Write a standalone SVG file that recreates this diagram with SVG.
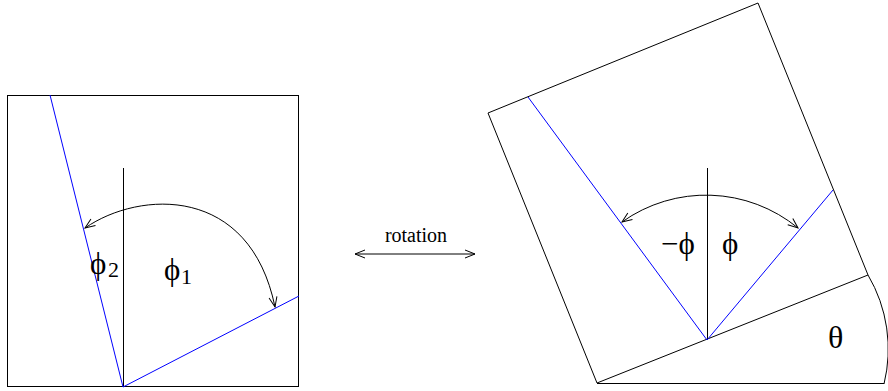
<svg xmlns="http://www.w3.org/2000/svg" width="888" height="391" viewBox="0 0 888 391">
<style>
.ln{fill:none;stroke:#000;stroke-width:1}
.bl{fill:none;stroke:#0000ff;stroke-width:1}
.sym{font-family:"Liberation Serif","DejaVu Serif",serif;font-size:31px;fill:#000}
.sub{font-family:"Liberation Serif","DejaVu Serif",serif;font-size:22px;fill:#000}
.lbl{font-family:"Liberation Serif","DejaVu Serif",serif;font-size:20px;fill:#000}
</style>
<defs>
<marker id="ah" markerUnits="userSpaceOnUse" markerWidth="12" markerHeight="10" refX="10" refY="4" orient="auto-start-reverse" overflow="visible">
<path d="M0,0 L10,4 L0,8" fill="none" stroke="#000" stroke-width="1"/>
</marker>
</defs>
<g id="left-frame">
<rect class="ln" x="7.5" y="95.5" width="291" height="291"/>
<line class="ln" x1="123.5" y1="168" x2="123.5" y2="387"/>
<line class="bl" x1="123" y1="387" x2="50" y2="95"/>
<line class="bl" x1="123" y1="387" x2="299" y2="296"/>
</g>
<g id="left-labels">
<text class="sym" x="90" y="274">ϕ</text>
<text class="sub" x="108" y="277">2</text>
<text class="sym" x="164" y="280">ϕ</text>
<text class="sub" x="181" y="284">1</text>
</g>
<g id="right-frame">
<polygon class="ln" points="758,3 868,275 597,383 488,113"/>
<line class="ln" x1="597" y1="383.5" x2="884" y2="383.5"/>
<path class="ln" d="M868,275 A146,146 0 0 1 884,384"/>
<line class="ln" x1="707.5" y1="168" x2="707.5" y2="340"/>
<line class="bl" x1="707" y1="340" x2="528" y2="97"/>
<line class="bl" x1="707" y1="340" x2="833" y2="190"/>
</g>
<g id="right-labels">
<text class="sym" x="661" y="254">−ϕ</text>
<text class="sym" x="722" y="254">ϕ</text>
<text class="sym" x="828" y="348" style="font-size:32px">θ</text>
</g>
<g id="rotation">
<text class="lbl" x="416" y="242" text-anchor="middle">rotation</text>
</g>
<g id="connectors">
<path class="ln" d="M85,228 C140,190 250,185 275,307" marker-start="url(#ah)" marker-end="url(#ah)"/>
<path class="ln" d="M622,222 A145,145 0 0 1 798,228" marker-start="url(#ah)" marker-end="url(#ah)"/>
<line class="ln" x1="355" y1="254" x2="475" y2="254" marker-start="url(#ah)" marker-end="url(#ah)"/>
</g>
</svg>
